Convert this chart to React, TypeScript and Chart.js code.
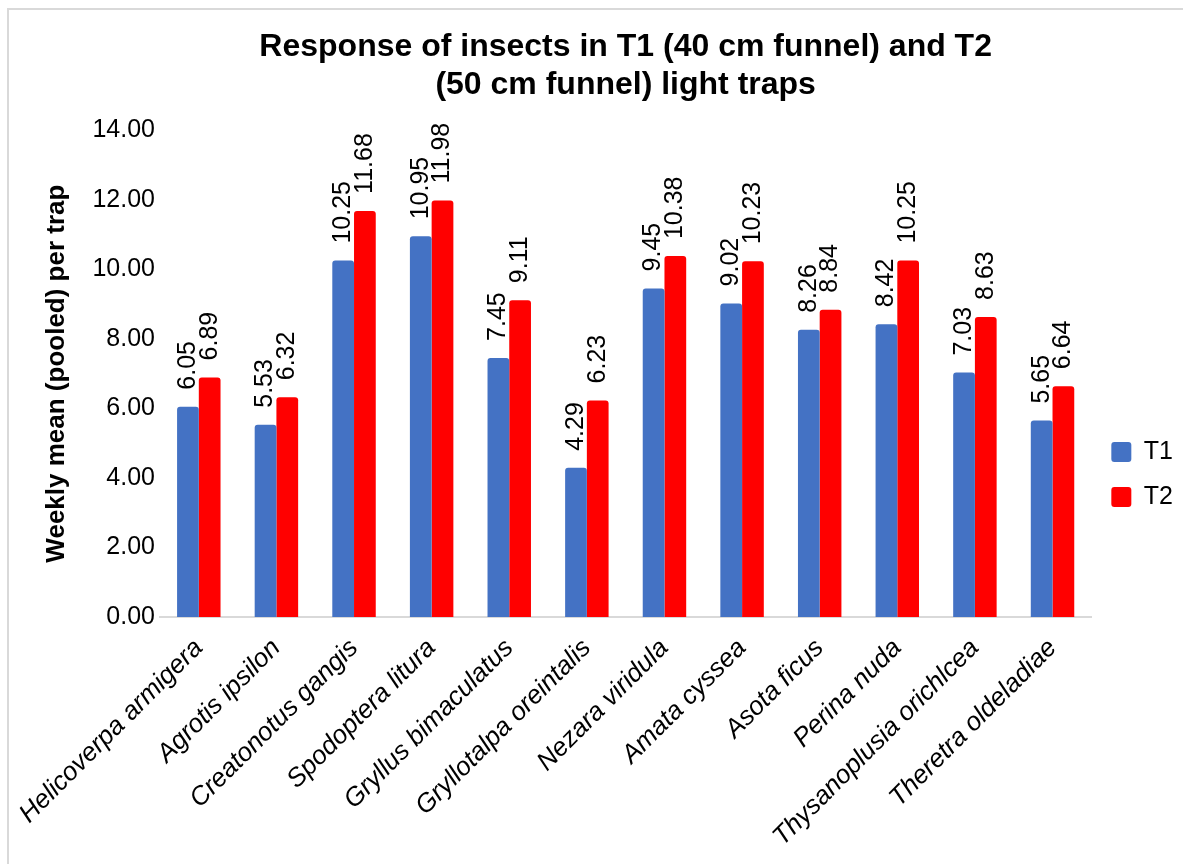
import React, { useEffect, useRef } from "react";
import { Chart, registerables } from "chart.js";

Chart.register(...registerables);

const categories = [
  "Helicoverpa armigera",
  "Agrotis ipsilon",
  "Creatonotus gangis",
  "Spodoptera litura",
  "Gryllus bimaculatus",
  "Gryllotalpa oreintalis",
  "Nezara viridula",
  "Amata cyssea",
  "Asota ficus",
  "Perina nuda",
  "Thysanoplusia orichlcea",
  "Theretra oldeladiae",
];

const t1Values = [6.05, 5.53, 10.25, 10.95, 7.45, 4.29, 9.45, 9.02, 8.26, 8.42, 7.03, 5.65];
const t2Values = [6.89, 6.32, 11.68, 11.98, 9.11, 6.23, 10.38, 10.23, 8.84, 10.25, 8.63, 6.64];

const seriesNames = ["T1", "T2"];
const titleLines = ["Response of insects in T1 (40 cm funnel) and T2", "(50 cm funnel) light traps"];
const yAxisTitle = "Weekly mean (pooled) per trap";
const yTickValues = [0, 2, 4, 6, 8, 10, 12, 14];

const FONT = '"Liberation Sans", Arial, Helvetica, sans-serif';

const valueLabels = {
  id: "valueLabels",
  afterDatasetsDraw(chart: any) {
    const ctx = chart.ctx;
    chart.data.datasets.forEach((ds: any, i: number) => {
      const meta = chart.getDatasetMeta(i);
      meta.data.forEach((bar: any, j: number) => {
        const v = ds.data[j];
        ctx.save();
        ctx.translate(bar.x, bar.y - 17);
        ctx.rotate(-Math.PI / 2);
        ctx.font = `25px ${FONT}`;
        ctx.fillStyle = "#000";
        ctx.textAlign = "left";
        ctx.textBaseline = "middle";
        ctx.fillText(Number(v).toFixed(2), 0, 0);
        ctx.restore();
      });
    });
  },
};

export default function App() {
  const canvasRef = useRef<HTMLCanvasElement | null>(null);

  useEffect(() => {
    if (!canvasRef.current) return;
    Chart.defaults.font.family = FONT;
    Chart.defaults.color = "#000";
    const chart = new Chart(canvasRef.current, {
      type: "bar",
      data: {
        labels: categories,
        datasets: [
          {
            label: seriesNames[0],
            data: t1Values,
            backgroundColor: "#4472C4",
            borderWidth: 0,
            borderRadius: { topLeft: 3, topRight: 3, bottomLeft: 0, bottomRight: 0 },
            borderSkipped: "bottom",
            categoryPercentage: 0.56,
            barPercentage: 1.0,
          },
          {
            label: seriesNames[1],
            data: t2Values,
            backgroundColor: "#FF0000",
            borderWidth: 0,
            borderRadius: { topLeft: 3, topRight: 3, bottomLeft: 0, bottomRight: 0 },
            borderSkipped: "bottom",
            categoryPercentage: 0.56,
            barPercentage: 1.0,
          },
        ],
      },
      options: {
        responsive: false,
        animation: false,
        devicePixelRatio: 1,
        layout: { padding: { left: 0, right: 0, top: 0, bottom: 0 } },
        plugins: {
          tooltip: { enabled: false },
          title: {
            display: true,
            text: titleLines,
            fullSize: false,
            color: "#000",
            font: { size: 32, weight: "bold", lineHeight: 1.16 },
            padding: { top: 19, bottom: 27 },
          },
          legend: {
            display: true,
            position: "right",
            align: "center",
            title: {
              display: true,
              text: "",
              font: { size: 12, lineHeight: 1.25 },
              padding: { top: 0, bottom: 60 },
            },
            labels: {
              boxWidth: 20,
              boxHeight: 20,
              useBorderRadius: true,
              borderRadius: 3,
              padding: 20,
              color: "#000",
              font: { size: 25 },
            },
          },
        },
        scales: {
          x: {
            grid: { display: false, drawTicks: false },
            border: { display: true, color: "#d9d9d9", width: 2 },
            ticks: {
              autoSkip: false,
              maxRotation: 45,
              minRotation: 45,
              color: "#000",
              padding: 16,
              font: { size: 26, style: "italic" },
            },
            afterFit: (scale: any) => {
              scale.height = 247;
              scale.paddingLeft = 0;
              scale.paddingRight = 0;
            },
          },
          y: {
            min: 0,
            max: 14,
            grid: { display: false, drawTicks: false },
            border: { display: false },
            afterBuildTicks: (scale: any) => {
              scale.ticks = yTickValues.map((v) => ({ value: v }));
            },
            ticks: {
              color: "#000",
              padding: 5,
              font: { size: 25 },
              callback: (v: any) => Number(v).toFixed(2),
            },
            title: {
              display: true,
              text: yAxisTitle,
              color: "#000",
              font: { size: 26, weight: "bold", lineHeight: 1.2 },
              padding: { top: 32, bottom: 10 },
            },
            afterFit: (scale: any) => {
              scale.width = 151;
            },
          },
        },
      },
      plugins: [valueLabels],
    });
    return () => chart.destroy();
  }, []);

  return (
    <div
      style={{
        position: "fixed",
        left: 7,
        top: 8,
        width: 1176,
        height: 856,
        borderTop: "2px solid #d9d9d9",
        borderLeft: "2px solid #d9d9d9",
        boxSizing: "border-box",
        background: "#fff",
        overflow: "hidden",
      }}
    >
      <canvas ref={canvasRef} width={1174} height={854} style={{ display: "block" }} />
    </div>
  );
}
